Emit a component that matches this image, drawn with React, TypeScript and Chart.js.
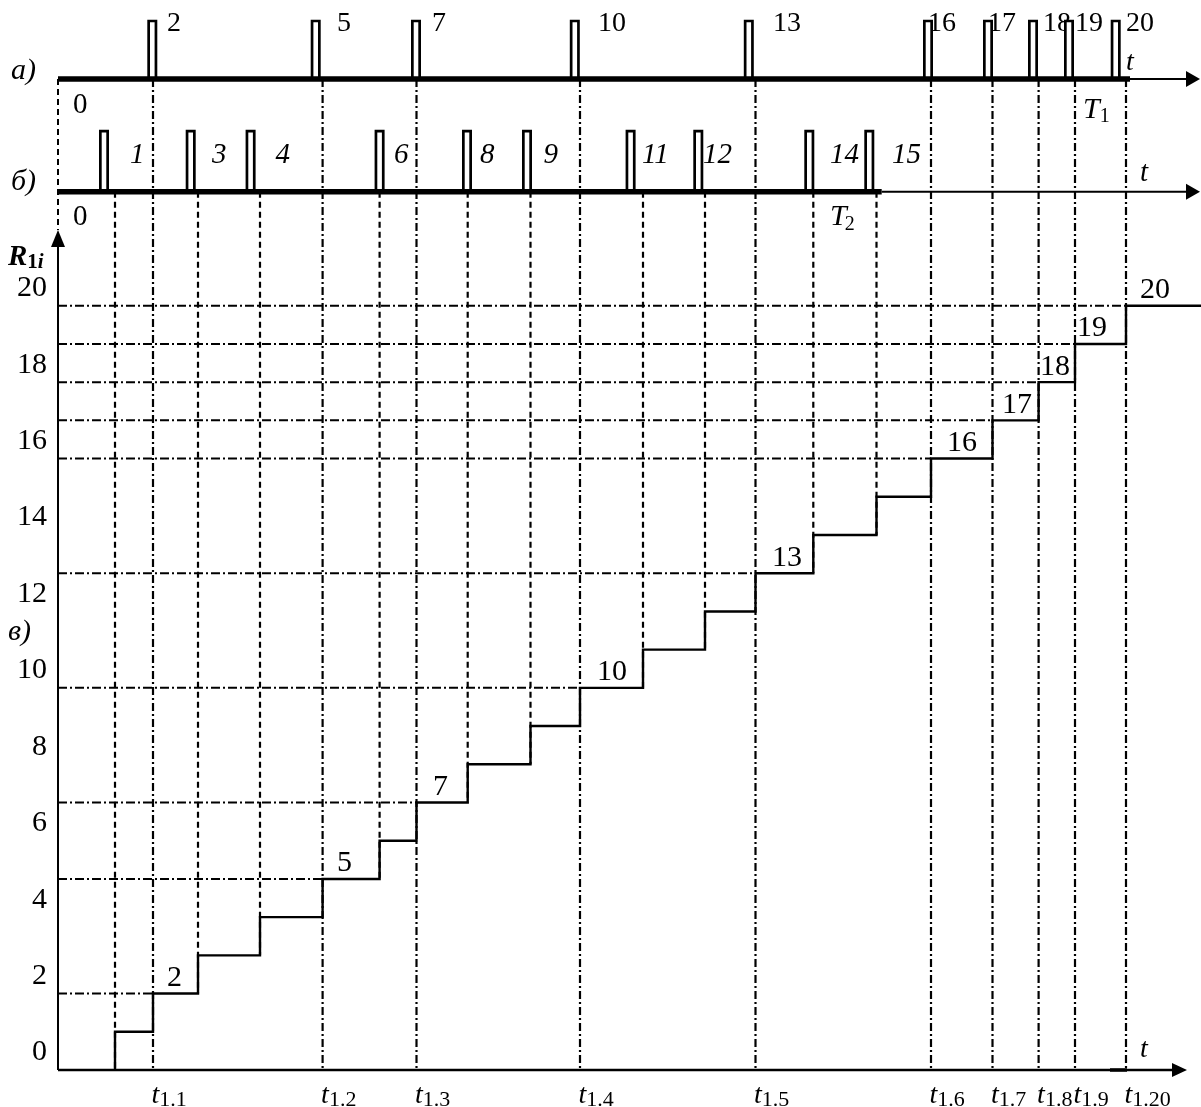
import { useEffect, useRef } from "react";
import { Chart, registerables } from "chart.js";
Chart.register(...registerables);

// ---- data (time unit: arbitrary, ~10 px per unit) ----
// a) stream: event times, their global step numbers and labels
const eventsA = [9.5, 26.46, 35.85, 52.2, 69.75, 87.3, 93.45, 98.06, 101.7, 106.8];
const stepsA = [2, 5, 7, 10, 13, 16, 17, 18, 19, 20];
const labelsA = ["2", "5", "7", "10", "13", "16", "17", "18", "19", "20"];
// b) stream
const eventsB = [5.7, 14.0, 20.2, 32.16, 40.97, 47.25, 58.5, 64.7, 75.53, 81.85];
const stepsB = [1, 3, 4, 6, 8, 9, 11, 12, 14, 15];
const labelsB = ["1", "3", "4", "6", "8", "9", "11", "12", "14", "15"];
// pulse right edges as drawn
const pulseRightA = [9.93, 26.27, 36.3, 52.18, 69.58, 87.5, 93.5, 98.0, 101.6, 106.27];
const pulseRightB = [5.1, 13.77, 19.76, 32.66, 41.4, 47.4, 57.76, 64.53, 75.63, 81.63];
// x-axis tick subscripts (one per a-event)
const xTickSubs = ["1.1", "1.2", "1.3", "1.4", "1.5", "1.6", "1.7", "1.8", "1.9", "1.20"];
// y-axis ticks
const yTicks = [0, 2, 4, 6, 8, 10, 12, 14, 16, 18, 20];

// ---- layout constants (positions / sizes, not data) ----
const XMAX = 114.3;
const YMAX = 28;
const TL_A = 25.93;
const TL_B = 22.98;
const PULSE_TOP_A = 27.45;
const PULSE_TOP_B = 24.57;
const A_THICK_END = 107.2;
const B_THICK_END = 82.37;
const ARROW_TIP = 114.2;
const X_AXIS_TIP = 112.9;
const Y_AXIS_TIP = 21.98;
const topLabelXA = [10.9, 27.9, 37.4, 54.0, 71.5, 87.0, 93.0, 98.5, 101.7, 106.8];
const topLabelXB = [7.2, 15.4, 21.75, 33.6, 42.2, 48.55, 58.4, 64.5, 77.2, 83.4];
const stepLabelX = [10.9, 27.9, 37.5, 53.9, 71.4, 88.9, 94.4, 98.2, 101.9, 108.2];

const SERIF = '"Liberation Serif", "Times New Roman", serif';

export default function App() {
  const ref = useRef<HTMLCanvasElement>(null);

  useEffect(() => {
    document.body.style.margin = "0";
    const canvas = ref.current!;
    const datasets: any[] = [];
    const K = "#000";
    const line = (pts: { x: number; y: number }[], opts: any = {}) =>
      datasets.push({
        data: pts,
        showLine: true,
        borderColor: K,
        borderWidth: 2,
        pointRadius: 0,
        pointHoverRadius: 0,
        fill: false,
        clip: false,
        tension: 0,
        borderCapStyle: "butt",
        borderJoinStyle: "miter",
        ...opts,
      });

    // timelines and axes (drawn on top)
    line([{ x: 0, y: TL_A }, { x: A_THICK_END, y: TL_A }], { borderWidth: 5.5 });
    line([{ x: 0, y: TL_B }, { x: B_THICK_END, y: TL_B }], { borderWidth: 5.5 });
    line([{ x: A_THICK_END, y: TL_A }, { x: ARROW_TIP - 1, y: TL_A }], { borderWidth: 2 });
    line([{ x: B_THICK_END, y: TL_B }, { x: ARROW_TIP - 1, y: TL_B }], { borderWidth: 2 });
    line([{ x: 0, y: 0 }, { x: X_AXIS_TIP - 1, y: 0 }], { borderWidth: 2.5 });
    line([{ x: 105.2, y: 0 }, { x: 106.9, y: 0 }], { borderWidth: 3.5 });
    line([{ x: 0, y: 0 }, { x: 0, y: Y_AXIS_TIP - 0.3 }], { borderWidth: 2 });

    // pulses
    const pulse = (r: number, base: number, top: number) =>
      line(
        [
          { x: r - 0.865, y: base },
          { x: r - 0.865, y: top },
          { x: r - 0.135, y: top },
          { x: r - 0.135, y: base },
        ],
        { borderWidth: 2.7, fill: "shape", backgroundColor: "#fff" }
      );
    pulseRightA.forEach((r) => pulse(r, TL_A, PULSE_TOP_A));
    pulseRightB.forEach((r) => pulse(r, TL_B, PULSE_TOP_B));

    // staircase
    const all: { t: number; s: number }[] = [];
    eventsA.forEach((t, i) => all.push({ t, s: stepsA[i] }));
    eventsB.forEach((t, i) => all.push({ t, s: stepsB[i] }));
    all.sort((a, b) => a.s - b.s);
    const stair: { x: number; y: number }[] = [];
    all.forEach((e) => {
      stair.push({ x: e.t, y: e.s - 1 });
      stair.push({ x: e.t, y: e.s });
    });
    stair.push({ x: XMAX, y: all[all.length - 1].s });
    line(stair, { borderWidth: 2.4 });

    // dashed guides
    const dashDot = [8, 3, 2, 3];
    const dashed = [6, 4];
    eventsA.forEach((t, i) => {
      line([{ x: 0, y: stepsA[i] }, { x: t, y: stepsA[i] }], { borderWidth: 2, borderDash: [9, 3, 2, 3] });
      line([{ x: t, y: TL_A }, { x: t, y: 0 }], { borderWidth: 2.2, borderDash: dashDot });
    });
    eventsB.forEach((t, i) => {
      line([{ x: t, y: TL_B }, { x: t, y: stepsB[i] - 1 }], { borderWidth: 2.2, borderDash: dashed });
    });
    line([{ x: 0, y: TL_A }, { x: 0, y: Y_AXIS_TIP }], { borderWidth: 2, borderDash: dashed });

    const deco = {
      id: "deco",
      beforeDatasetsDraw(chart: any) {
        const ctx = chart.ctx;
        const xs = chart.scales.x;
        ctx.save();
        ctx.fillStyle = K;
        ctx.textAlign = "left";
        ctx.textBaseline = "alphabetic";
        ctx.font = `28px ${SERIF}`;
        labelsA.forEach((s, i) => ctx.fillText(s, xs.getPixelForValue(topLabelXA[i]), 31));
        ctx.font = `italic 29px ${SERIF}`;
        labelsB.forEach((s, i) => ctx.fillText(s, xs.getPixelForValue(topLabelXB[i]), 163));
        ctx.restore();
      },
      afterDraw(chart: any) {
        const ctx = chart.ctx;
        const xs = chart.scales.x;
        const ys = chart.scales.y;
        ctx.save();
        ctx.fillStyle = K;
        ctx.textAlign = "left";
        ctx.textBaseline = "alphabetic";
        const put = (s: string, x: number, y: number, size: number, style = "") => {
          ctx.font = `${style} ${size}px ${SERIF}`;
          ctx.fillText(s, x, y);
          return ctx.measureText(s).width;
        };
        // arrows
        const tri = (p: number[][]) => {
          ctx.beginPath();
          ctx.moveTo(p[0][0], p[0][1]);
          ctx.lineTo(p[1][0], p[1][1]);
          ctx.lineTo(p[2][0], p[2][1]);
          ctx.closePath();
          ctx.fill();
        };
        const ax = xs.getPixelForValue(ARROW_TIP);
        const ya = ys.getPixelForValue(TL_A);
        const yb = ys.getPixelForValue(TL_B);
        tri([[ax, ya], [ax - 14, ya - 8], [ax - 14, ya + 8]]);
        tri([[ax, yb], [ax - 14, yb - 8], [ax - 14, yb + 8]]);
        const xx = xs.getPixelForValue(X_AXIS_TIP);
        const y0 = ys.getPixelForValue(0);
        tri([[xx, y0], [xx - 15, y0 - 7], [xx - 15, y0 + 7]]);
        const x0 = xs.getPixelForValue(0);
        const yt = ys.getPixelForValue(Y_AXIS_TIP);
        tri([[x0, yt], [x0 - 7, yt + 17], [x0 + 7, yt + 17]]);

        // panel letters and origins
        put("а)", 11, 79, 30, "italic");
        put("б)", 11, 190, 30, "italic");
        put("в)", 8, 640, 30, "italic");
        put("0", 73, 113, 29);
        put("0", 73, 225, 29);
        // t and T labels
        put("t", 1126, 70, 28, "italic");
        let w = put("T", 1083, 118, 30, "italic");
        put("1", 1083 + w, 122, 20);
        put("t", 1140, 181, 29, "italic");
        w = put("T", 830, 225, 30, "italic");
        put("2", 830 + w - 2, 230, 20);
        put("t", 1140, 1057, 28, "italic");
        // y title
        w = put("R", 8, 265, 29, "bold italic");
        const w1 = put("1", 8 + w, 268, 21, "bold");
        put("i", 8 + w + w1, 268, 21, "bold italic");

        // x tick labels
        eventsA.forEach((t, i) => {
          const px = xs.getPixelForValue(t) - 1.5;
          const wt = put("t", px, 1103, 28, "italic");
          put(xTickSubs[i], px + wt, 1106, 22);
        });
        // step labels on staircase
        eventsA.forEach((t, i) => {
          put(labelsA[i], xs.getPixelForValue(stepLabelX[i]), ys.getPixelForValue(stepsA[i]) - 7.5, 30);
        });
        ctx.restore();
      },
    };

    const chart = new Chart(canvas, {
      type: "scatter",
      data: { datasets },
      options: {
        animation: false,
        responsive: false,
        devicePixelRatio: 1,
        events: [],
        layout: { padding: { top: 0, right: 0, bottom: 37, left: 0 } },
        plugins: { legend: { display: false }, tooltip: { enabled: false } },
        scales: {
          x: { type: "linear", min: 0, max: XMAX, display: false },
          y: {
            type: "linear",
            min: 0,
            max: YMAX,
            afterBuildTicks: (s: any) => {
              s.ticks = yTicks.map((v) => ({ value: v }));
            },
            afterFit: (s: any) => {
              s.width = 58;
              s.paddingTop = 0;
              s.paddingBottom = 0;
            },
            grid: { display: false, drawTicks: false },
            border: { display: false },
            ticks: {
              color: K,
              font: { family: SERIF, size: 30 },
              padding: 11,
              labelOffset: -17.5,
              autoSkip: false,
              maxRotation: 0,
            },
          },
        },
      },
      plugins: [deco],
    } as any);
    return () => chart.destroy();
  }, []);

  return <canvas ref={ref} width={1201} height={1107} style={{ display: "block" }} />;
}
